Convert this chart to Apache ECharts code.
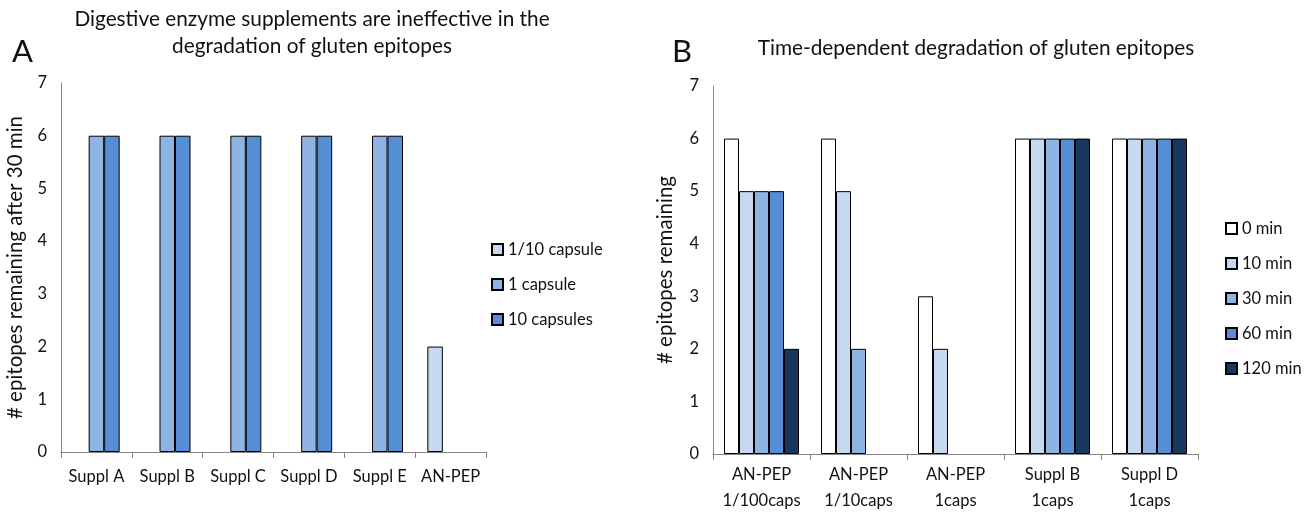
<!DOCTYPE html>
<html><head><meta charset="utf-8">
<script src="https://cdn.jsdelivr.net/npm/echarts@6/dist/echarts.min.js"></script>
<style>html,body{margin:0;padding:0;background:#fff}#c{width:1308px;height:514px}</style>
</head><body><div id="c"></div>
<script>
const catsA = ['Suppl A','Suppl B','Suppl C','Suppl D','Suppl E','AN-PEP'];
const seriesNamesA = ['1/10 capsule','1 capsule','10 capsules'];
const valsA_tenth = [0,0,0,0,0,2];
const valsA_one = [6,6,6,6,6,0];
const valsA_ten = [6,6,6,6,6,0];

const catsB = ['AN-PEP\n1/100caps','AN-PEP\n1/10caps','AN-PEP\n1caps','Suppl B\n1caps','Suppl D\n1caps'];
const seriesNamesB = ['0 min','10 min','30 min','60 min','120 min'];
const valsB_0 = [6,6,3,6,6];
const valsB_10 = [5,5,2,6,6];
const valsB_30 = [5,2,0,6,6];
const valsB_60 = [5,0,0,6,6];
const valsB_120 = [2,0,0,6,6];

const yTicks = [0,1,2,3,4,5,6,7];

const colorsA = ['#C6D9F1','#8EB4E3','#558ED5'];
const colorsB = ['#FFFFFF','#C6D9F1','#8EB4E3','#558ED5','#17375E'];
const FONT = 'Lato';
const TXT = '#111';
const chart = echarts.init(document.getElementById('c'), null, {renderer:'canvas'});

function bar(name, data, color, xi, barWidth){
  return {name, type:'bar', xAxisIndex:xi, yAxisIndex:xi, barGap:'0%', barWidth,
    data: data.map(v => v === 0 ? {value:v, itemStyle:{borderWidth:0, opacity:0}} : v),
    itemStyle:{color, borderColor:'#000', borderWidth:1}, emphasis:{disabled:true}, animation:false};
}
const axisLineStyle = {color:'#868686', width:1};
function yAxis(gi, name, gap){
  return {type:'value', gridIndex:gi, min:yTicks[0], max:yTicks[yTicks.length-1], interval:1,
    name, nameLocation:'middle', nameGap:gap, nameTextStyle:{fontFamily:FONT, fontSize:20.5, color:TXT},
    axisLine:{show:true, lineStyle:axisLineStyle}, axisTick:{show:false}, splitLine:{show:false},
    axisLabel:{fontFamily:FONT, fontSize:16.5, color:TXT, margin:14}};
}
function xAxis(gi, data, margin, lh){
  return {type:'category', gridIndex:gi, data, axisLine:{show:true, lineStyle:axisLineStyle},
    axisTick:{show:true, length:6, inside:false, alignWithLabel:false, lineStyle:axisLineStyle},
    axisLabel:{fontFamily:FONT, fontSize:16.5, color:TXT, margin, lineHeight:lh, interval:0}};
}
const seriesA = [valsA_tenth, valsA_one, valsA_ten].map((d,i)=>bar(seriesNamesA[i], d, colorsA[i], 0, 15.5));
const seriesB = [valsB_0, valsB_10, valsB_30, valsB_60, valsB_120].map((d,i)=>bar(seriesNamesB[i], d, colorsB[i], 1, 15));

chart.setOption({
  animation:false,
  title:[
    {text:'Digestive enzyme supplements are ineffective in the\ndegradation of gluten epitopes', left:307, top:1, textAlign:'center',
     textStyle:{fontFamily:FONT, fontSize:20.8, fontWeight:'normal', color:TXT, lineHeight:27}},
    {text:'A', left:7, top:31, textStyle:{fontFamily:FONT, fontSize:31, fontWeight:'normal', color:TXT}},
    {text:'Time-dependent degradation of gluten epitopes', left:971, top:33, textAlign:'center',
     textStyle:{fontFamily:FONT, fontSize:20.8, fontWeight:'normal', color:TXT}},
    {text:'B', left:667, top:31, textStyle:{fontFamily:FONT, fontSize:31, fontWeight:'normal', color:TXT}}
  ],
  legend:[
    {data:seriesNamesA, orient:'vertical', left:486, top:236, itemWidth:11, itemHeight:11, itemGap:18, icon:'rect',
     textStyle:{fontFamily:FONT, fontSize:16.5, color:TXT}, selectedMode:false},
    {data:seriesNamesB, orient:'vertical', left:1220, top:215, itemWidth:11, itemHeight:11, itemGap:18, icon:'rect',
     textStyle:{fontFamily:FONT, fontSize:16.5, color:TXT}, selectedMode:false}
  ],
  grid:[
    {left:61, top:83, width:425, height:369},
    {left:713, top:86, width:485, height:371}
  ],
  xAxis:[xAxis(0, catsA, 15, 20), xAxis(1, catsB, 8, 26)],
  yAxis:[yAxis(0, '# epitopes remaining after 30 min', 35), yAxis(1, '# epitopes remaining', 37)],
  series:[...seriesA, ...seriesB]
});
</script></body></html>
